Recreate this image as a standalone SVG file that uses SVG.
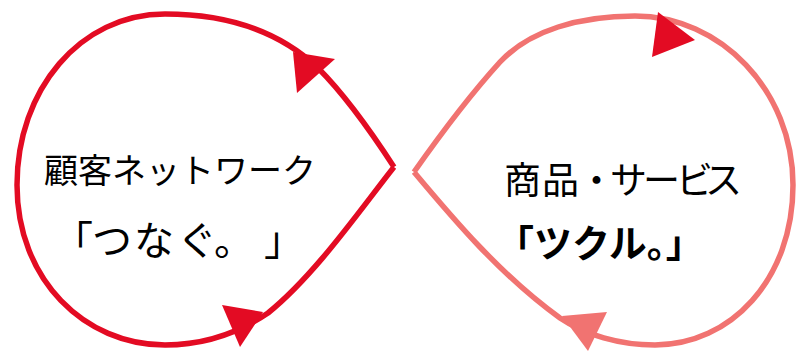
<svg xmlns="http://www.w3.org/2000/svg" width="797" height="351" viewBox="0 0 797 351">
<style>
.loop{fill:none;stroke-width:5.5;stroke-linejoin:round}
.red{stroke:#E30B23}
.pink{stroke:#F17371}
.t{font-family:"Noto Sans CJK JP","Noto Sans",sans-serif;fill:#000}
</style>
<rect width="797" height="351" fill="#fff"/>
<g id="connectors">
<path class="loop red" d="M394,167 C370,130 345,95 318,68 C280,32 230,14 165,14 C80,14 17,90 17,185 C17,280 85,345 165,345 C205,345 240,332 268,313 C315,275 360,210 394,167"/>
<path class="loop pink" d="M414,172 C440,135 470,95 500,62 C530,30 580,16 635,16 C720,16 793,90 793,185 C793,280 730,345 655,345 C620,345 585,335 560,318 C500,275 450,215 414,172"/>
<polygon fill="#E30B23" points="293,52 335,59 297,93"/>
<polygon fill="#E30B23" points="263,312 222,305 240,347"/>
<polygon fill="#E30B23" points="695,40 658,12 652,57"/>
<polygon fill="#F17371" points="562,316 607,312 588,351"/>
</g>
<g id="node-network">
<text class="t" x="44" y="183" font-size="34">顧客ネットワーク</text>
<text class="t" x="53 92 134 177 214 264" y="255" font-size="40">「つなぐ。」</text>
</g>
<g id="node-product">
<text class="t" x="504 542 578 610 643 676 705" y="194" font-size="37">商品・サービス</text>
<text class="t" x="496" y="257" font-size="38" font-weight="bold">「ツクル。」</text>
</g>
</svg>
